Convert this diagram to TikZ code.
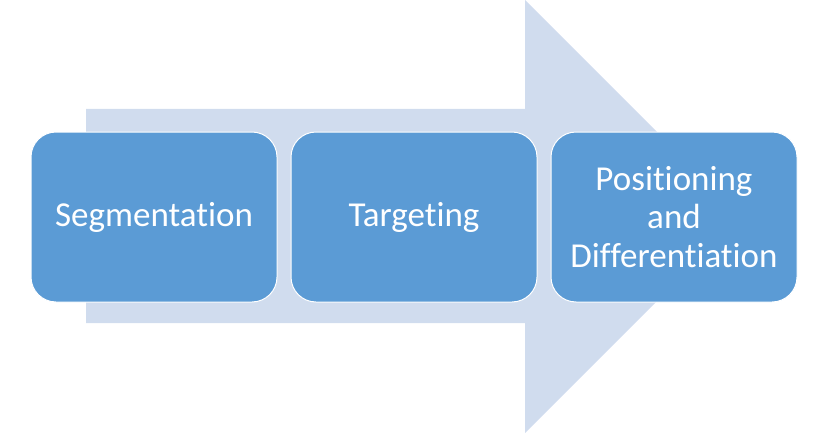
\documentclass[tikz,border=0pt]{standalone}
\usepackage{fontspec}
\setmainfont[Ligatures=CommonOff]{Carlito}
\usetikzlibrary{positioning}
\definecolor{ArrowBlue}{HTML}{D0DCEE}
\definecolor{BoxBlue}{HTML}{5B9BD5}

\begin{document}
\begin{tikzpicture}[x=1pt,y=-1pt,
    stage/.style={fill=BoxBlue, draw=white, line width=1pt, rounded corners=25pt,
      minimum width=246pt, minimum height=170pt, inner sep=0pt,
      text=white, align=center, font=\fontsize{35}{38.5}\selectfont}]
        \useasboundingbox (0,0) rectangle (818,433);

        % big arrow behind the boxes
        \coordinate (A) at (86,109);
        \coordinate (B) at (525,109);
        \coordinate (C) at (525,0);
        \coordinate (D) at (741.5,216.5);
        \coordinate (E) at (525,433);
        \coordinate (F) at (525,323);
        \coordinate (G) at (86,323);
        \fill[ArrowBlue] (A) -- (B) -- (C) -- (D) -- (E) -- (F) -- (G) -- cycle;

        \node[stage] (seg) at (154,217) {Segmentation};
        \node[stage, right=13pt of seg] (tgt) {Targeting};
        \node[stage, right=13pt of tgt] (pos) {Positioning\\and\\Differentiation};
    \end{tikzpicture}
\end{document}
